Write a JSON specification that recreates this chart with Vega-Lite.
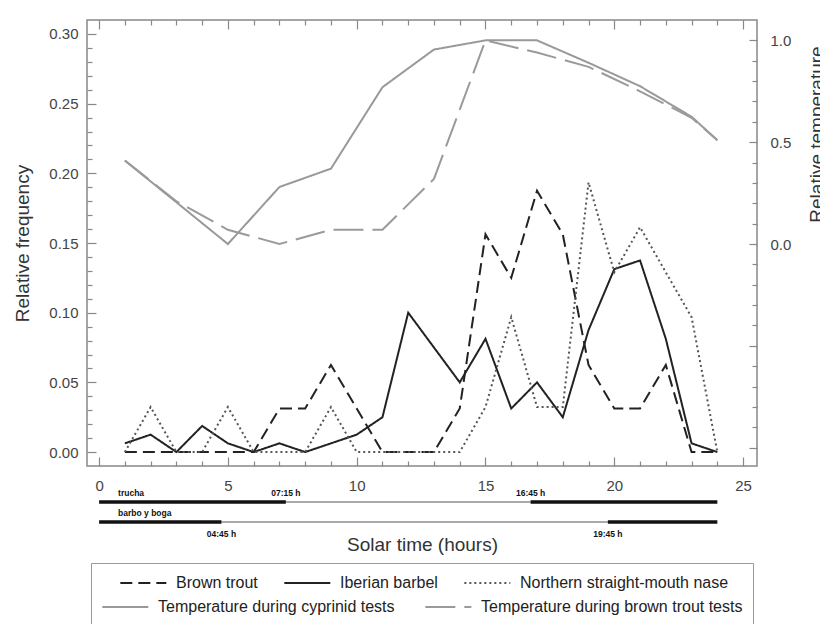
{
  "$schema": "https://vega.github.io/schema/vega-lite/v6.json",
  "width": 670,
  "height": 446,
  "autosize": {"type": "none"},
  "padding": {"left": 87, "top": 20, "right": 63, "bottom": 158},
  "background": "white",
  "config": {
    "view": {"stroke": "#888", "strokeWidth": 1.5},
    "axis": {
      "domain": false, "grid": false,
      "labelFont": "Liberation Sans", "labelFontSize": 15, "labelColor": "#444",
      "titleFont": "Liberation Sans", "titleFontSize": 19, "titleFontWeight": "normal", "titleColor": "#333",
      "tickColor": "#888", "tickWidth": 1.2, "labelOverlap": false
    },
    "legend": {
      "labelFont": "Liberation Sans", "labelFontSize": 16, "labelColor": "#222", "labelLimit": 400,
      "symbolType": "M -1 0 H 5", "symbolSize": 235, "symbolStrokeWidth": 2,
      "columnPadding": 26, "labelOffset": 39, "padding": 0
    }
  },
  "datasets": {
    "fish": [
      {"hour": 1, "Brown trout": 0, "Iberian barbel": 0.00625, "Northern straight-mouth nase": 0},
      {"hour": 2, "Brown trout": 0, "Iberian barbel": 0.0125, "Northern straight-mouth nase": 0.0323},
      {"hour": 3, "Brown trout": 0, "Iberian barbel": 0, "Northern straight-mouth nase": 0},
      {"hour": 4, "Brown trout": 0, "Iberian barbel": 0.01875, "Northern straight-mouth nase": 0},
      {"hour": 5, "Brown trout": 0, "Iberian barbel": 0.00625, "Northern straight-mouth nase": 0.0323},
      {"hour": 6, "Brown trout": 0, "Iberian barbel": 0, "Northern straight-mouth nase": 0},
      {"hour": 7, "Brown trout": 0.03125, "Iberian barbel": 0.00625, "Northern straight-mouth nase": 0},
      {"hour": 8, "Brown trout": 0.03125, "Iberian barbel": 0, "Northern straight-mouth nase": 0},
      {"hour": 9, "Brown trout": 0.0625, "Iberian barbel": 0.00625, "Northern straight-mouth nase": 0.0323},
      {"hour": 10, "Brown trout": 0.03125, "Iberian barbel": 0.0125, "Northern straight-mouth nase": 0},
      {"hour": 11, "Brown trout": 0, "Iberian barbel": 0.025, "Northern straight-mouth nase": 0},
      {"hour": 12, "Brown trout": 0, "Iberian barbel": 0.1, "Northern straight-mouth nase": 0},
      {"hour": 13, "Brown trout": 0, "Iberian barbel": 0.075, "Northern straight-mouth nase": 0},
      {"hour": 14, "Brown trout": 0.03125, "Iberian barbel": 0.05, "Northern straight-mouth nase": 0},
      {"hour": 15, "Brown trout": 0.15625, "Iberian barbel": 0.08125, "Northern straight-mouth nase": 0.0323},
      {"hour": 16, "Brown trout": 0.125, "Iberian barbel": 0.03125, "Northern straight-mouth nase": 0.0968},
      {"hour": 17, "Brown trout": 0.1875, "Iberian barbel": 0.05, "Northern straight-mouth nase": 0.0323},
      {"hour": 18, "Brown trout": 0.15625, "Iberian barbel": 0.025, "Northern straight-mouth nase": 0.0323},
      {"hour": 19, "Brown trout": 0.0625, "Iberian barbel": 0.0875, "Northern straight-mouth nase": 0.1935},
      {"hour": 20, "Brown trout": 0.03125, "Iberian barbel": 0.13125, "Northern straight-mouth nase": 0.129},
      {"hour": 21, "Brown trout": 0.03125, "Iberian barbel": 0.1375, "Northern straight-mouth nase": 0.1613},
      {"hour": 22, "Brown trout": 0.0625, "Iberian barbel": 0.08125, "Northern straight-mouth nase": 0.129},
      {"hour": 23, "Brown trout": 0, "Iberian barbel": 0.00625, "Northern straight-mouth nase": 0.0968},
      {"hour": 24, "Brown trout": 0, "Iberian barbel": 0, "Northern straight-mouth nase": 0}
    ],
    "temp": [
      {"hour": 1, "Temperature during cyprinid tests": 0.41, "Temperature during brown trout tests": 0.41},
      {"hour": 3, "Temperature during cyprinid tests": 0.205, "Temperature during brown trout tests": 0.21},
      {"hour": 5, "Temperature during cyprinid tests": 0.0, "Temperature during brown trout tests": 0.07},
      {"hour": 7, "Temperature during cyprinid tests": 0.28, "Temperature during brown trout tests": 0.0},
      {"hour": 9, "Temperature during cyprinid tests": 0.37, "Temperature during brown trout tests": 0.07},
      {"hour": 11, "Temperature during cyprinid tests": 0.77, "Temperature during brown trout tests": 0.07},
      {"hour": 13, "Temperature during cyprinid tests": 0.955, "Temperature during brown trout tests": 0.32},
      {"hour": 15, "Temperature during cyprinid tests": 1.0, "Temperature during brown trout tests": 1.0},
      {"hour": 17, "Temperature during cyprinid tests": 1.0, "Temperature during brown trout tests": 0.94},
      {"hour": 19, "Temperature during cyprinid tests": 0.89, "Temperature during brown trout tests": 0.87},
      {"hour": 21, "Temperature during cyprinid tests": 0.775, "Temperature during brown trout tests": 0.75},
      {"hour": 23, "Temperature during cyprinid tests": 0.625, "Temperature during brown trout tests": 0.62},
      {"hour": 24, "Temperature during cyprinid tests": 0.51, "Temperature during brown trout tests": 0.51}
    ],
    "bars": [
      {"group": "trucha", "phase": "night", "start": 0, "end": 7.25},
      {"group": "trucha", "phase": "day", "start": 7.25, "end": 16.75},
      {"group": "trucha", "phase": "night", "start": 16.75, "end": 24},
      {"group": "barbo", "phase": "night", "start": 0, "end": 4.75},
      {"group": "barbo", "phase": "day", "start": 4.75, "end": 19.75},
      {"group": "barbo", "phase": "night", "start": 19.75, "end": 24}
    ],
    "barLabels": [
      {"group": "trucha", "pos": "name", "hour": 0, "text": "trucha"},
      {"group": "barbo", "pos": "name", "hour": 0, "text": "barbo y boga"},
      {"group": "trucha", "pos": "above", "hour": 7.25, "text": "07:15 h"},
      {"group": "trucha", "pos": "above", "hour": 16.75, "text": "16:45 h"},
      {"group": "barbo", "pos": "below", "hour": 4.75, "text": "04:45 h"},
      {"group": "barbo", "pos": "below", "hour": 19.75, "text": "19:45 h"}
    ]
  },
  "layer": [
    {
      "data": {"name": "fish"},
      "transform": [{"fold": ["Brown trout", "Iberian barbel", "Northern straight-mouth nase"], "as": ["series", "value"]}],
      "mark": {"type": "line", "strokeWidth": 2},
      "encoding": {
        "x": {
          "field": "hour", "type": "quantitative",
          "scale": {"domain": [-0.47, 25.54], "nice": false, "zero": false},
          "axis": {
            "orient": "bottom",
            "values": [0,1,2,3,4,5,6,7,8,9,10,11,12,13,14,15,16,17,18,19,20,21,22,23,24,25],
            "labelExpr": "datum.value % 5 == 0 ? datum.label : ''",
            "tickSize": {"condition": {"test": "datum.value % 5 == 0", "value": -9}, "value": -5},
            "labelPadding": 21,
            "title": "Solar time (hours)",
            "titlePadding": 38
          }
        },
        "y": {
          "field": "value", "type": "quantitative",
          "scale": {"domain": [-0.01, 0.31], "nice": false, "zero": false},
          "axis": {
            "orient": "left",
            "values": [0,0.01,0.02,0.03,0.04,0.05,0.06,0.07,0.08,0.09,0.1,0.11,0.12,0.13,0.14,0.15,0.16,0.17,0.18,0.19,0.2,0.21,0.22,0.23,0.24,0.25,0.26,0.27,0.28,0.29,0.3],
            "format": ".2f",
            "labelExpr": "round(datum.value*100) % 5 == 0 ? datum.label : ''",
            "tickSize": {"condition": {"test": "round(datum.value*100) % 5 == 0", "value": -9}, "value": -5},
            "labelPadding": 18,
            "title": "Relative frequency",
            "titlePadding": 16
          }
        },
        "color": {
          "field": "series", "type": "nominal",
          "scale": {"domain": ["Brown trout", "Iberian barbel", "Northern straight-mouth nase"], "range": ["#222222", "#222222", "#555555"]},
          "legend": {"title": null, "orient": "none", "legendX": 32, "legendY": 554, "direction": "horizontal", "columnPadding": 22}
        },
        "strokeDash": {
          "field": "series", "type": "nominal",
          "scale": {"domain": ["Brown trout", "Iberian barbel", "Northern straight-mouth nase"], "range": [[12, 6], [1, 0], [2, 3]]},
          "legend": {"title": null, "orient": "none", "legendX": 32, "legendY": 554, "direction": "horizontal", "columnPadding": 22}
        }
      }
    },
    {
      "data": {"name": "temp"},
      "transform": [{"fold": ["Temperature during cyprinid tests", "Temperature during brown trout tests"], "as": ["series", "value"]}],
      "mark": {"type": "line", "strokeWidth": 2},
      "encoding": {
        "x": {
          "field": "hour", "type": "quantitative",
          "scale": {"domain": [-0.47, 25.54], "nice": false, "zero": false},
          "axis": {
            "orient": "top",
            "values": [0,1,2,3,4,5,6,7,8,9,10,11,12,13,14,15,16,17,18,19,20,21,22,23,24,25],
            "labels": false,
            "tickSize": {"condition": {"test": "datum.value % 5 == 0", "value": -9}, "value": -5},
            "title": null
          }
        },
        "y": {
          "field": "value", "type": "quantitative",
          "scale": {"domain": [-1.09, 1.10], "nice": false, "zero": false},
          "axis": {
            "orient": "right",
            "values": [-1,-0.9,-0.8,-0.7,-0.6,-0.5,-0.4,-0.3,-0.2,-0.1,0,0.1,0.2,0.3,0.4,0.5,0.6,0.7,0.8,0.9,1],
            "format": ".1f",
            "labelExpr": "datum.value > -0.01 && abs(datum.value*2 - round(datum.value*2)) < 0.01 ? datum.label : ''",
            "tickSize": {"condition": {"test": "abs(datum.value*2 - round(datum.value*2)) < 0.01", "value": -8}, "value": -5},
            "labelPadding": 21,
            "title": "Relative temperature",
            "titleAngle": -90,
            "titleY": 114,
            "titlePadding": 36
          }
        },
        "color": {
          "field": "series", "type": "nominal",
          "scale": {"domain": ["Temperature during cyprinid tests", "Temperature during brown trout tests"], "range": ["#999999", "#9a9a9a"]},
          "legend": {"title": " ", "titleFontSize": 14, "titlePadding": 11, "orient": "none", "legendX": 4, "legendY": 543, "direction": "horizontal", "strokeColor": "#999", "padding": 10}
        },
        "strokeDash": {
          "field": "series", "type": "nominal",
          "scale": {"domain": ["Temperature during cyprinid tests", "Temperature during brown trout tests"], "range": [[1, 0], [30, 9]]},
          "legend": {"title": " ", "titleFontSize": 14, "titlePadding": 11, "orient": "none", "legendX": 4, "legendY": 543, "direction": "horizontal", "strokeColor": "#999", "padding": 10}
        }
      }
    },
    {
      "layer": [
        {
          "data": {"name": "bars"},
          "transform": [{"filter": "datum.phase == 'day'"}],
          "mark": {"type": "rule", "color": "#aaaaaa", "strokeWidth": 2},
          "encoding": {
            "x": {"field": "start", "type": "quantitative", "scale": {"domain": [-0.47, 25.54], "nice": false, "zero": false}, "axis": null},
            "x2": {"field": "end"},
            "y": {"field": "group", "type": "nominal", "scale": {"type": "point", "domain": ["trucha", "barbo"], "range": [482, 502], "padding": 0}, "axis": null}
          }
        },
        {
          "data": {"name": "bars"},
          "transform": [{"filter": "datum.phase == 'night'"}],
          "mark": {"type": "rule", "color": "#111111", "strokeWidth": 3.5},
          "encoding": {
            "x": {"field": "start", "type": "quantitative", "scale": {"domain": [-0.47, 25.54], "nice": false, "zero": false}, "axis": null},
            "x2": {"field": "end"},
            "y": {"field": "group", "type": "nominal", "scale": {"type": "point", "domain": ["trucha", "barbo"], "range": [482, 502], "padding": 0}, "axis": null}
          }
        },
        {
          "data": {"name": "barLabels"},
          "transform": [{"filter": "datum.pos == 'name'"}],
          "mark": {"type": "text", "align": "left", "baseline": "middle", "dx": 19, "dy": -9, "font": "Liberation Sans", "fontSize": 8.5, "fontWeight": "bold", "color": "#111"},
          "encoding": {
            "x": {"field": "hour", "type": "quantitative", "scale": {"domain": [-0.47, 25.54], "nice": false, "zero": false}, "axis": null},
            "y": {"field": "group", "type": "nominal", "scale": {"type": "point", "domain": ["trucha", "barbo"], "range": [482, 502], "padding": 0}, "axis": null},
            "text": {"field": "text"}
          }
        },
        {
          "data": {"name": "barLabels"},
          "transform": [{"filter": "datum.pos == 'above'"}],
          "mark": {"type": "text", "align": "center", "baseline": "middle", "dy": -9, "font": "Liberation Sans", "fontSize": 8.5, "fontWeight": "bold", "color": "#111"},
          "encoding": {
            "x": {"field": "hour", "type": "quantitative", "scale": {"domain": [-0.47, 25.54], "nice": false, "zero": false}, "axis": null},
            "y": {"field": "group", "type": "nominal", "scale": {"type": "point", "domain": ["trucha", "barbo"], "range": [482, 502], "padding": 0}, "axis": null},
            "text": {"field": "text"}
          }
        },
        {
          "data": {"name": "barLabels"},
          "transform": [{"filter": "datum.pos == 'below'"}],
          "mark": {"type": "text", "align": "center", "baseline": "middle", "dy": 12, "font": "Liberation Sans", "fontSize": 8.5, "fontWeight": "bold", "color": "#111"},
          "encoding": {
            "x": {"field": "hour", "type": "quantitative", "scale": {"domain": [-0.47, 25.54], "nice": false, "zero": false}, "axis": null},
            "y": {"field": "group", "type": "nominal", "scale": {"type": "point", "domain": ["trucha", "barbo"], "range": [482, 502], "padding": 0}, "axis": null},
            "text": {"field": "text"}
          }
        }
      ]
    }
  ],
  "resolve": {
    "scale": {"y": "independent", "color": "independent", "strokeDash": "independent"},
    "axis": {"x": "independent", "y": "independent"}
  }
}
